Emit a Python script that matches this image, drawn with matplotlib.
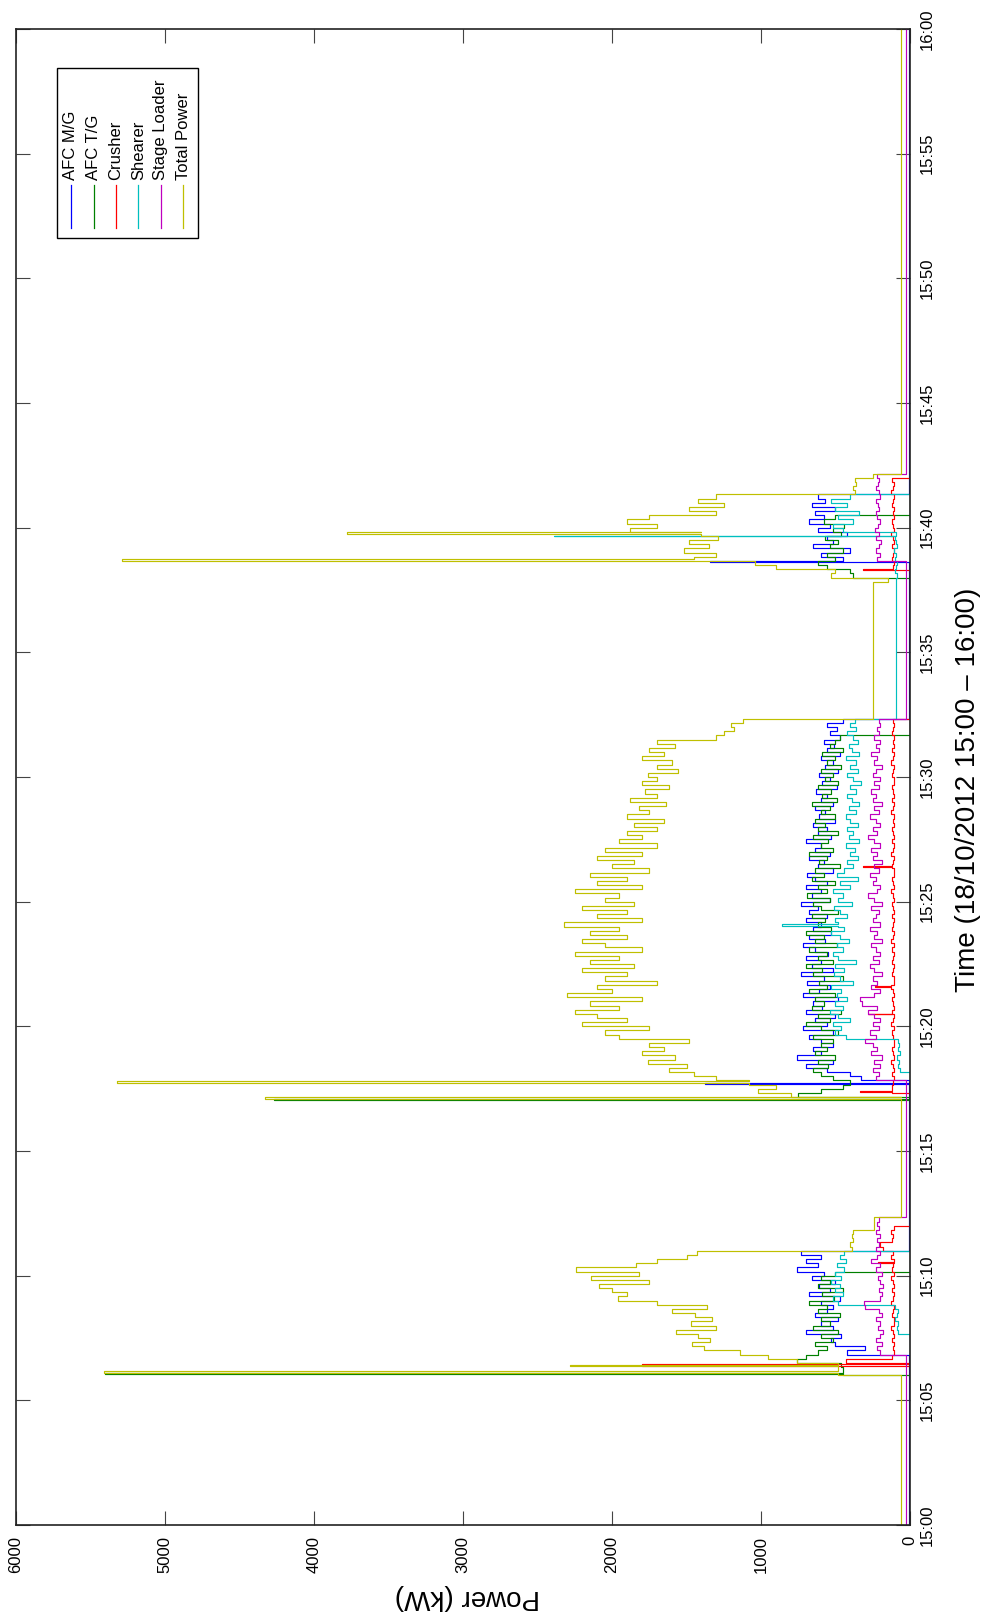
import numpy as np
import matplotlib
matplotlib.use("Agg")
import matplotlib.pyplot as plt
from matplotlib.lines import Line2D
from matplotlib.patches import Rectangle

plt.rcParams['font.family'] = ['Liberation Sans', 'DejaVu Sans']

# ---------------------------------------------------------------------------
# Longwall equipment power, 18/10/2012 15:00-16:00 (time in minutes after 15:00)
# ---------------------------------------------------------------------------
series_names = ['AFC M/G', 'AFC T/G', 'Crusher', 'Shearer', 'Stage Loader', 'Total Power']
series_colors = ['#0000ff', '#008000', '#ff0000', '#00bfbf', '#bf00bf', '#bfbf00']

power_ticks = [0, 1000, 2000, 3000, 4000, 5000, 6000]
time_ticks = [0, 5, 10, 15, 20, 25, 30, 35, 40, 45, 50, 55, 60]
time_tick_labels = ['15:00', '15:05', '15:10', '15:15', '15:20', '15:25', '15:30',
                    '15:35', '15:40', '15:45', '15:50', '15:55', '16:00']

STEP = 1 / 6                      # 10-second logging interval (min)
SPIKE = 0.06                      # duration of a start-up transient (min)
RUN_STARTS = [6.0, 17.0, 37.0 + 50 / 60]

# idle levels: before run 1, between 1-2, between 2-3, after run 3 (kW)
afc_mg_idle = [5, 5, 5, 5]
afc_tg_idle = [3, 3, 3, 3]
crusher_idle = [3, 3, 3, 3]
shearer_idle = [3, 3, 95, 3]
loader_idle = [25, 25, 25, 25]
total_idle = [60, 60, 250, 60]

# ---- run 1 (15:06:00, 10 s samples) ----
afc_mg_run1 = [5, 5, 5, 5, 5, 420, 300, 500, 530, 460,
               700, 520, 600, 480, 640, 560, 520, 600, 470, 680,
               540, 610, 500, 660, 580, 760, 620, 700, 600, 730,
               5, 5, 5, 5, 5, 5, 5, 5]
afc_tg_run1 = [450, 450, 460, 760, 700, 620, 560, 640, 520, 600,
               480, 650, 540, 600, 470, 620, 560, 680, 510, 590,
               450, 620, 540, 600, 500, 3, 3, 3, 3, 3,
               3, 3, 3, 3, 3, 3, 3, 3]
crusher_run1 = [3, 3, 3, 430, 120, 110, 115, 105, 120, 110,
                115, 125, 110, 105, 120, 115, 110, 125, 115, 105,
                120, 110, 115, 125, 110, 120, 115, 110, 125, 115,
                180, 200, 120, 115, 125, 110, 3, 3]
shearer_run1 = [3, 3, 3, 3, 3, 3, 3, 3, 3, 3,
                80, 90, 80, 100, 90, 80, 100, 480, 520, 450,
                500, 470, 530, 460, 500, 440, 490, 430, 470, 440,
                3, 3, 3, 3, 3, 3, 3, 3]
loader_run1 = [25, 25, 25, 25, 25, 200, 220, 190, 230, 200,
               180, 215, 200, 230, 190, 210, 300, 310, 200, 190,
               210, 180, 200, 215, 190, 230, 200, 260, 220, 200,
               230, 210, 220, 200, 230, 210, 220, 210]
total_run1 = [480, 480, 480, 760, 950, 1140, 1380, 1460, 1340, 1420,
              1570, 1300, 1470, 1330, 1440, 1600, 1360, 1700, 1960, 1900,
              2000, 2090, 1750, 2140, 1820, 2240, 1840, 1700, 1500, 1430,
              390, 400, 380, 390, 380, 240, 240, 240]

# ---- run 2 (15:17:00, 10 s samples) ----
afc_mg_run2 = [5, 5, 5, 5, 5,
               330, 400, 560, 700, 520, 760, 600, 650, 520,
               600, 680, 520, 720, 560, 640, 500, 700, 590, 650,
               480, 720, 610, 540, 690, 580, 730, 520, 660, 600,
               700, 550, 640, 720, 570, 680, 530, 650, 600, 700,
               560, 680, 620, 730, 540, 660, 600, 700, 560, 640,
               690, 520, 620, 580, 680, 540, 640, 600, 700, 530,
               620, 560, 650, 500, 610, 570, 640, 520, 600, 560,
               630, 490, 590, 540, 610, 480, 570, 520, 600, 470,
               560, 510, 580, 470, 540, 490, 560, 450]
afc_tg_run2 = [3, 750, 600, 450, 400, 520, 600, 650, 550, 620, 500, 640, 560, 600,
               520, 650, 480, 600, 700, 540, 620, 460, 660, 580,
               640, 500, 680, 560, 610, 450, 650, 590, 700, 520,
               620, 560, 680, 490, 640, 580, 700, 530, 620, 570,
               660, 480, 600, 650, 540, 690, 560, 620, 500, 660,
               580, 640, 470, 610, 560, 680, 520, 600, 550, 650,
               480, 620, 570, 640, 500, 600, 540, 660, 490, 590,
               530, 620, 480, 570, 520, 600, 460, 560, 500, 590,
               450, 540, 500, 470,
               3, 3, 3, 3]
crusher_run2 = [3, 3, 120, 120,
                115, 110, 120, 105, 115, 125, 110, 115, 120, 110,
                105, 115, 120, 110, 125, 115, 110, 120, 105, 115,
                120, 110, 115, 125, 110, 105, 120, 115, 110, 120,
                115, 105, 120, 110, 125, 115, 110, 120, 115, 105,
                120, 110, 115, 120, 105, 115, 125, 110, 115, 120,
                110, 105, 120, 115, 110, 125, 115, 105, 120, 110,
                115, 120, 105, 115, 110, 125, 115, 110, 120, 105,
                115, 120, 110, 105, 120, 115, 110, 125, 115, 110,
                120, 105, 115, 110, 120, 115, 110, 115]
shearer_run2 = [3, 3, 3, 3, 3, 3, 3,
                70, 80, 75, 85, 70, 80, 75, 80,
                430, 500, 460, 520, 400, 480, 535, 450, 500, 420,
                490, 460, 530, 380, 470, 510, 440, 500, 360, 480,
                520, 450, 490, 410, 470, 530, 440, 480, 500, 420,
                470, 510, 390, 480, 450, 520, 400, 470, 350, 490,
                440, 380, 420, 350, 400, 370, 430, 340, 410, 380,
                420, 350, 400, 430, 360, 410, 340, 390, 420, 360,
                400, 330, 380, 420, 350, 400, 360, 430, 340, 390,
                410, 350, 380, 420, 360, 400, 370]
loader_run2 = [25, 25, 25, 25, 25,
               230, 210, 250, 200, 240, 190, 260, 220, 250, 300,
               230, 270, 210, 250, 200, 240, 280, 220, 320, 335,
               240, 200, 260, 220, 250, 190, 240, 270, 210, 250,
               200, 230, 260, 190, 240, 220, 270, 200, 250, 230,
               210, 260, 190, 240, 280, 220, 200, 250, 230, 270,
               210, 240, 190, 250, 220, 260, 200, 240, 280, 220,
               250, 200, 230, 270, 210, 240, 190, 250, 230, 260,
               210, 240, 200, 250, 230, 190, 240, 220, 260, 210,
               230, 200, 240, 210, 220, 200, 210]
total_run2 = [60, 800, 1020, 900, 1080, 1300, 1450, 1620, 1500, 1760,
              1580, 1800, 1650, 1750, 1480, 1950, 2050, 1750, 2200, 1900,
              2100, 2250, 1950, 2150, 1800, 2300, 2000, 2100, 1700, 2050,
              1900, 2200, 1850, 2150, 1950, 2250, 1800, 2050, 2200, 1900,
              2150, 1950, 2320, 1800, 2100, 1900, 2200, 1850, 2050, 1950,
              2250, 1800, 2100, 1900, 2150, 1750, 2000, 1850, 2100, 1800,
              2050, 1700, 1950, 1800, 1900, 1700, 1850, 1650, 1900, 1750,
              1820, 1640, 1880, 1700, 1780, 1620, 1800, 1700, 1760, 1560,
              1700, 1600, 1800, 1650, 1750, 1580, 1700, 1300, 1250, 1180,
              1200, 1120]

# ---- run 3 (15:37:50, 10 s samples) ----
afc_mg_run3 = [5, 5, 5, 5, 5,
               450, 600, 400, 650, 520, 560, 420, 620, 540, 680, 580,
               640, 500, 660, 570, 620,
               5, 5, 5, 5, 5]
afc_tg_run3 = [3, 380, 400, 560, 620, 500, 560, 450, 540, 480, 570, 460, 520, 440,
               580, 500, 3, 3, 3, 3, 3, 3, 3, 3, 3, 3]
crusher_run3 = [3, 3, 3,
                115, 110, 120, 115, 105, 120, 110, 115, 125, 110, 115,
                120, 105, 115, 110, 120, 115, 110, 125, 115, 110, 120,
                3]
shearer_run3 = [95, 90, 100, 95, 90, 100, 95, 105, 90, 95, 100, 95,
                450, 520, 380, 480, 340, 500, 420, 530, 400,
                3, 3, 3, 3, 3]
loader_run3 = [25, 25, 25, 25, 25,
               220, 200, 230, 210, 195, 225, 205, 235, 215, 200, 220,
               230, 205, 215, 225, 200, 210, 230, 215, 205, 220]
total_run3 = [150, 530, 500, 900, 1040, 1450, 1300, 1520, 1350, 1480,
              1290, 1400, 1880, 1700, 1900, 1750, 1300, 1480, 1250, 1420,
              1300, 370, 380, 360, 370, 250]

# start-up transients: (minute, kW)
afc_mg_spikes = [(17.68, 1373), (38.62, 1340)]
afc_tg_spikes = [(6.05, 5400), (17.04, 4270)]
crusher_spikes = [(6.38, 1800), (10.5, 215), (17.35, 335), (20.49, 280),
                  (21.56, 235), (26.38, 315), (38.3, 315)]
shearer_spikes = [(24.04, 860), (39.66, 2390)]
loader_spikes = []
total_spikes = [(6.1, 5410), (6.36, 2280), (17.1, 4330), (17.74, 5320),
                (38.68, 5290), (39.75, 3780)]


def build(runs, idle, spikes):
    t = [0.0]
    v = [idle[0]]
    for k, (t0, vals) in enumerate(zip(RUN_STARTS, runs)):
        for i, val in enumerate(vals):
            t.append(t0 + i * STEP)
            v.append(val)
        t.append(t0 + len(vals) * STEP)
        v.append(idle[k + 1])
    t.append(60.0)
    v.append(idle[-1])
    t = np.array(t, float)
    v = np.array(v, float)
    extra_t, extra_v = [], []
    for ts, vs in spikes:
        after = v[np.searchsorted(t, ts + SPIKE, side='right') - 1]
        extra_t += [ts, ts + SPIKE]
        extra_v += [vs, after]
    t = np.concatenate([t, extra_t])
    v = np.concatenate([v, extra_v])
    order = np.argsort(t, kind='stable')
    t, v = t[order], v[order]
    # held-value (stair) trace
    tt = np.repeat(t, 2)[1:]
    vv = np.repeat(v, 2)[:-1]
    return tt, vv


series = [
    ([afc_mg_run1, afc_mg_run2, afc_mg_run3], afc_mg_idle, afc_mg_spikes),
    ([afc_tg_run1, afc_tg_run2, afc_tg_run3], afc_tg_idle, afc_tg_spikes),
    ([crusher_run1, crusher_run2, crusher_run3], crusher_idle, crusher_spikes),
    ([shearer_run1, shearer_run2, shearer_run3], shearer_idle, shearer_spikes),
    ([loader_run1, loader_run2, loader_run3], loader_idle, loader_spikes),
    ([total_run1, total_run2, total_run3], total_idle, total_spikes),
]

W, H = 987, 1619
L, R, T, B = 16, 910, 29, 1525
fig = plt.figure(figsize=(W / 100, H / 100), dpi=100, facecolor='white')
ax = fig.add_axes([L / W, 1 - B / H, (R - L) / W, (B - T) / H])

for (runs, idle, spikes), color in zip(series, series_colors):
    tt, vv = build(runs, idle, spikes)
    ax.plot(vv, tt, color=color, lw=0.85)

ax.set_xlim(6000, 0)
ax.set_ylim(0, 60)
ax.set_xticks(power_ticks)
ax.set_xticklabels([str(p) for p in power_ticks])
ax.set_yticks(time_ticks)
ax.set_yticklabels(time_tick_labels)
ax.yaxis.tick_right()
ax.tick_params(axis='both', direction='in', length=10, width=0.8, color='#444444',
               top=True, bottom=True, left=True, right=True, labelsize=12)
ax.tick_params(axis='y', labelleft=False, labelright=True, labelrotation=90, pad=7)
ax.tick_params(axis='x', labelrotation=90, pad=8)
for lab in ax.get_yticklabels():
    lab.set_va('center')
for sp in ax.spines.values():
    sp.set_linewidth(1.2)
    sp.set_color('#222222')

ax.yaxis.set_label_position('right')
ax.set_ylabel('Time (18/10/2012 15:00 – 16:00)', fontsize=20, rotation=90,
              ha='center', va='center')
ax.yaxis.set_label_coords((968 - L) / (R - L), (B - 790) / (B - T))
ax.set_xlabel('Power (kW)', fontsize=20, rotation=180, ha='center', va='center')
ax.xaxis.set_label_coords((467 - L) / (R - L), -(1597 - B) / (B - T))


# legend drawn in figure pixels, text running bottom-to-top
def fx(px):
    return px / W


def fy(py):
    return 1 - py / H


fig.add_artist(Rectangle((fx(57), fy(238)), fx(198) - fx(57), fy(68) - fy(238),
                         transform=fig.transFigure, facecolor='white',
                         edgecolor='black', lw=1.0, zorder=5))
legend_x = [71, 93.5, 116, 138.5, 161, 183.5]
for x, name, color in zip(legend_x, series_names, series_colors):
    fig.add_artist(Line2D([fx(x), fx(x)], [fy(228), fy(185)], transform=fig.transFigure,
                          color=color, lw=0.9, zorder=6))
    fig.text(fx(x), fy(180), name, rotation=90, rotation_mode='anchor',
             ha='left', va='center', fontsize=12, zorder=6)

fig.savefig('out.png', dpi=100, facecolor='white')
